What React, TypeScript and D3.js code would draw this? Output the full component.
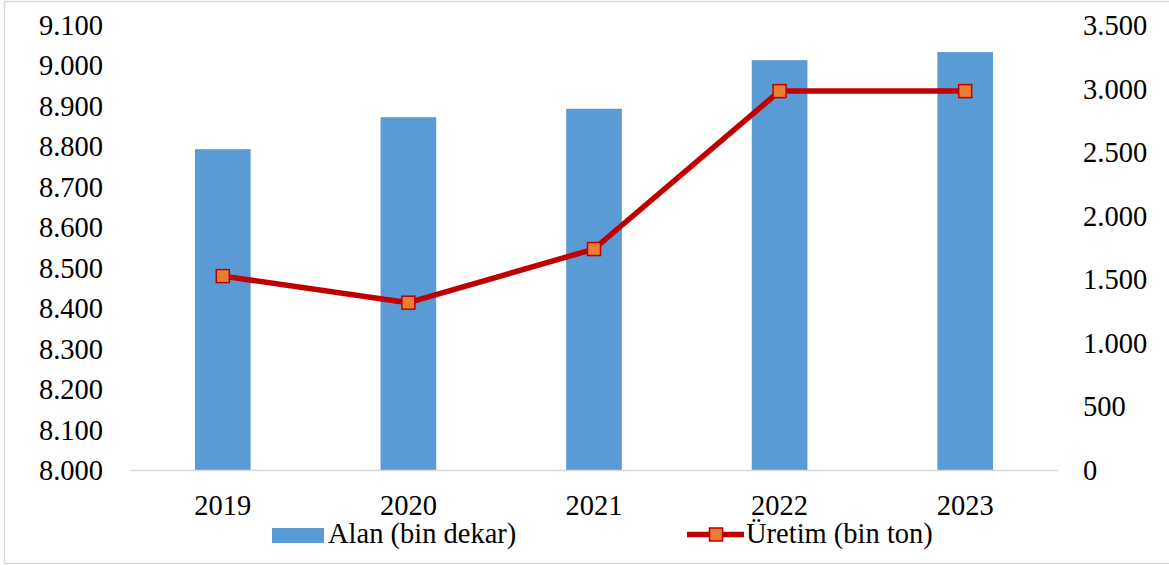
import React from "react";
import * as d3 from "d3";

const years = ["2019", "2020", "2021", "2022", "2023"];
const alan = [8793, 8872, 8893, 9013, 9033];
const uretim = [1525, 1316, 1738, 2980, 2980];
const leftTicks = [8000, 8100, 8200, 8300, 8400, 8500, 8600, 8700, 8800, 8900, 9000, 9100];
const rightTicks = [0, 500, 1000, 1500, 2000, 2500, 3000, 3500];
const barLabel = "Alan (bin dekar)";
const lineLabel = "Üretim (bin ton)";

const W = 1169;
const H = 565;
const FONT = "Liberation Serif, Times New Roman, DejaVu Serif, serif";
const FS = 28.5;
const ts: React.CSSProperties = { fontFamily: FONT, fontSize: FS };

const fmt = (v: number) => d3.format(",")(v).replace(/,/g, ".");

export default function App() {
  const x = d3.scaleBand<string>().domain(years).range([130, 1058]).paddingInner(0.7).paddingOuter(0.35);
  const yL = d3.scaleLinear().domain([8000, 9100]).range([470, 25]);
  const yR = d3.scaleLinear().domain([0, 3500]).range([470, 25]);
  const cx = (d: string) => (x(d) as number) + x.bandwidth() / 2;
  const line = d3
    .line<number>()
    .x((_, i) => cx(years[i]))
    .y((d) => yR(d));
  const ms = 13;

  return (
    <svg width={W} height={H} style={{ position: "absolute", left: 0, top: 0 }}>
      <rect x={0} y={0} width={W} height={H} fill="#fff" />
      <path d={`M${W + 2},1.5 H4.5 V563.5 H${W + 2}`} fill="none" stroke="#d9d9d9" strokeWidth={1.5} />
      {years.map((d, i) => (
        <rect key={d} x={x(d)} y={yL(alan[i])} width={x.bandwidth()} height={yL(8000) - yL(alan[i])} fill="#5B9BD5" />
      ))}
      <line x1={130} x2={1058} y1={470.5} y2={470.5} stroke="#d9d9d9" strokeWidth={1.5} />
      <path d={line(uretim) || ""} fill="none" stroke="#C00000" strokeWidth={5.5} strokeLinejoin="round" />
      {years.map((d, i) => (
        <rect
          key={d}
          x={cx(d) - ms / 2}
          y={yR(uretim[i]) - ms / 2}
          width={ms}
          height={ms}
          fill="#ED7D31"
          stroke="#C00000"
          strokeWidth={1.5}
        />
      ))}
      {leftTicks.map((t) => (
        <text key={t} x={103} y={yL(t)} dy="0.35em" textAnchor="end" style={ts} fill="#000">
          {fmt(t)}
        </text>
      ))}
      {rightTicks.map((t) => (
        <text key={t} x={1083} y={yR(t)} dy="0.35em" textAnchor="start" style={ts} fill="#000">
          {fmt(t)}
        </text>
      ))}
      {years.map((d) => (
        <text key={d} x={cx(d)} y={515} textAnchor="middle" style={ts} fill="#000">
          {d}
        </text>
      ))}
      <rect x={272} y={528} width={52} height={15} fill="#5B9BD5" />
      <text x={328} y={543} style={ts} fill="#000">
        {barLabel}
      </text>
      <line x1={687} x2={744} y1={534.5} y2={534.5} stroke="#C00000" strokeWidth={5.5} />
      <rect x={716 - ms / 2} y={534.5 - ms / 2} width={ms} height={ms} fill="#ED7D31" stroke="#C00000" strokeWidth={1.5} />
      <text x={746} y={543} style={ts} fill="#000">
        {lineLabel}
      </text>
    </svg>
  );
}
